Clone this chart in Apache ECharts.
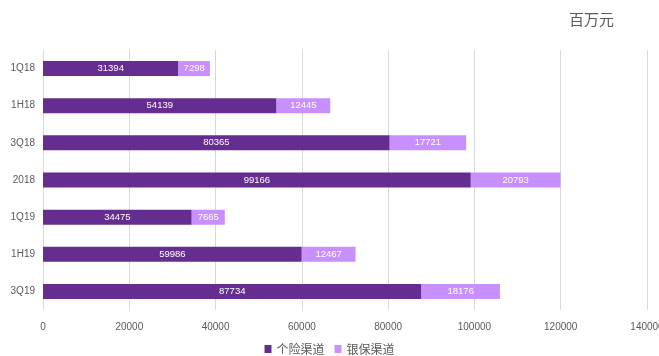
<!DOCTYPE html>
<html><head><meta charset="utf-8">
<script src="https://cdn.jsdelivr.net/npm/echarts@6/dist/echarts.min.js"></script>
<style>html,body{margin:0;padding:0;background:#fff}#c{width:659px;height:356px}</style>
</head><body><div id="c"></div>
<script>
const categories = ['1Q18','1H18','3Q18','2018','1Q19','1H19','3Q19'];
const individual = [31394,54139,80365,99166,34475,59986,87734];
const bancassurance = [7298,12445,17721,20793,7665,12467,18176];
const xTicks = [0,20000,40000,60000,80000,100000,120000,140000];
const seriesNames = ['个险渠道','银保渠道'];
const unitLabel = '百万元';

const chart = echarts.init(document.getElementById('c'));
const font = '"Liberation Sans", "Noto Sans CJK SC", sans-serif';
chart.setOption({
  animation:false,
  textStyle:{fontFamily:font},
  title:{text:unitLabel,right:40,top:7,textStyle:{fontSize:15,fontWeight:'normal',color:'#595959',fontFamily:'"Noto Sans CJK SC", sans-serif'}},
  legend:{bottom:-4,left:'center',itemWidth:7,itemHeight:8,itemGap:10,icon:'rect',
    textStyle:{fontSize:12,color:'#595959',fontFamily:'"Noto Sans CJK SC", sans-serif'},data:seriesNames},
  grid:{left:43,right:12,top:50,bottom:46,containLabel:false,outerBoundsMode:'none'},
  xAxis:{type:'value',min:xTicks[0],max:xTicks[xTicks.length-1],interval:20000,
    axisLine:{show:false},axisTick:{show:false},
    axisLabel:{fontSize:10,color:'#595959',margin:12,formatter:function(v){return String(v);}},
    splitLine:{lineStyle:{color:'#d9d9d9'}}},
  yAxis:{type:'category',data:categories,inverse:true,
    axisLine:{show:false},axisTick:{show:false},
    axisLabel:{fontSize:10,color:'#595959',margin:8}},
  series:[
    {name:seriesNames[0],type:'bar',stack:'t',data:individual,barWidth:15,
     itemStyle:{color:'#662D91'},
     label:{show:true,position:'inside',color:'#fff',fontSize:9.5}},
    {name:seriesNames[1],type:'bar',stack:'t',data:bancassurance,barWidth:15,
     itemStyle:{color:'#C890FF'},
     label:{show:true,position:'inside',color:'#fff',fontSize:9.5}}
  ]
});
</script></body></html>
